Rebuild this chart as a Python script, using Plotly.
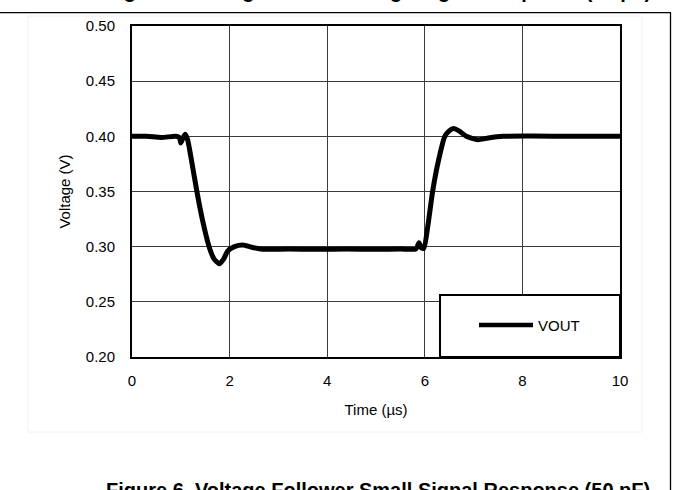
import plotly.graph_objects as go

# Data (time in µs, voltage in V)
time_us = [0.0, 0.3, 0.6, 0.9, 0.97, 1.0, 1.04, 1.09, 1.14, 1.22, 1.33, 1.45, 1.58,
           1.68, 1.79, 1.88, 1.96, 2.1, 2.27, 2.45, 2.67, 3.2, 3.8, 4.4, 5.0, 5.5,
           5.82, 5.88, 5.93, 5.98, 6.06, 6.16, 6.28, 6.41, 6.5, 6.59, 6.7, 6.85,
           7.09, 7.3, 7.6, 8.2, 9.0, 10.0]
vout = [0.400, 0.400, 0.399, 0.400, 0.399, 0.394, 0.398, 0.402, 0.397, 0.378, 0.350,
        0.323, 0.300, 0.289, 0.2845, 0.289, 0.296, 0.300, 0.3015, 0.2995, 0.2977,
        0.2978, 0.2976, 0.2978, 0.2977, 0.2978, 0.2980, 0.3035, 0.2990, 0.2985,
        0.318, 0.350, 0.378, 0.400, 0.405, 0.407, 0.405, 0.400, 0.397, 0.3985,
        0.4000, 0.4002, 0.4000, 0.4000]

x_ticks = [0, 2, 4, 6, 8, 10]
y_ticks = [0.20, 0.25, 0.30, 0.35, 0.40, 0.45, 0.50]

W, H = 673, 490
# plot area in screen pixels
L, R, T, B = 132, 620, 26, 357


def px(xp):
    return (xp - L) / (R - L)


def py(yp):
    return (B - yp) / (B - T)


fig = go.Figure()
fig.add_trace(go.Scatter(
    x=time_us, y=vout, mode="lines", name="VOUT",
    line=dict(color="black", width=5, shape="spline", smoothing=0.6),
    showlegend=False, hoverinfo="skip",
))

font = "Liberation Sans, Arial, sans-serif"

fig.update_layout(
    width=W, height=H,
    margin=dict(l=L, r=W - R, t=T, b=H - B),
    paper_bgcolor="white", plot_bgcolor="white",
    font=dict(family=font, size=15, color="black"),
    xaxis=dict(
        range=[0, 10], tickvals=x_ticks, ticktext=[str(v) for v in x_ticks],
        showgrid=True, gridcolor="#3a3a3a", gridwidth=1,
        showline=True, linecolor="black", linewidth=2, mirror=True,
        ticks="outside", ticklen=9, tickcolor="rgba(0,0,0,0)",
        zeroline=False,
        title=dict(text="Time (µs)", font=dict(size=15), standoff=16),
    ),
    yaxis=dict(
        range=[0.2, 0.5], tickvals=y_ticks, ticktext=[f"{v:.2f}" for v in y_ticks],
        showgrid=True, gridcolor="#3a3a3a", gridwidth=1,
        showline=True, linecolor="black", linewidth=2, mirror=True,
        ticks="outside", ticklen=12, tickcolor="rgba(0,0,0,0)",
        zeroline=False,
        title=dict(text="Voltage (V)", font=dict(size=15), standoff=12),
    ),
)

shapes = [
    # faint chart-area frame
    dict(type="rect", xref="paper", yref="paper", x0=px(28), x1=px(642), y0=py(432), y1=py(16),
         line=dict(color="#f0f0f0", width=1), layer="below"),
    # page frame lines
    dict(type="line", xref="paper", yref="paper", x0=px(0), x1=px(671), y0=py(12.7), y1=py(12.7),
         line=dict(color="black", width=1.3)),
    dict(type="line", xref="paper", yref="paper", x0=px(670.5), x1=px(670.5), y0=py(12.7), y1=py(490),
         line=dict(color="black", width=1.3)),
    # legend box
    dict(type="rect", xref="paper", yref="paper", x0=px(440), x1=1.0, y0=0.0, y1=py(295),
         line=dict(color="black", width=2), fillcolor="white", layer="above"),
    # legend sample line
    dict(type="line", xref="paper", yref="paper", x0=px(479), x1=px(533), y0=py(325), y1=py(325),
         line=dict(color="black", width=4.5), layer="above"),
]
fig.update_layout(shapes=shapes)

fig.add_annotation(text="VOUT", xref="paper", yref="paper", x=px(536), y=py(325),
                   xanchor="left", yanchor="middle", showarrow=False,
                   font=dict(size=15, family=font))
# clipped caption of previous figure (top)
fig.add_annotation(text="<b>Figure 5. Voltage Follower Large Signal Response (50 pF)</b>",
                   xref="paper", yref="paper", x=px(378), y=py(4), xanchor="center", yanchor="bottom",
                   showarrow=False, font=dict(size=20, family=font))
# caption (bottom, clipped)
fig.add_annotation(text="<b>Figure 6. Voltage Follower Small Signal Response (50 pF)</b>",
                   xref="paper", yref="paper", x=px(378), y=py(477), xanchor="center", yanchor="top",
                   showarrow=False, font=dict(size=20, family=font))

fig.write_html(
    "out.html",
    config={"displayModeBar": False},
    post_script="document.body.style.margin='0';document.documentElement.style.overflow='hidden';document.body.style.overflow='hidden';",
)
